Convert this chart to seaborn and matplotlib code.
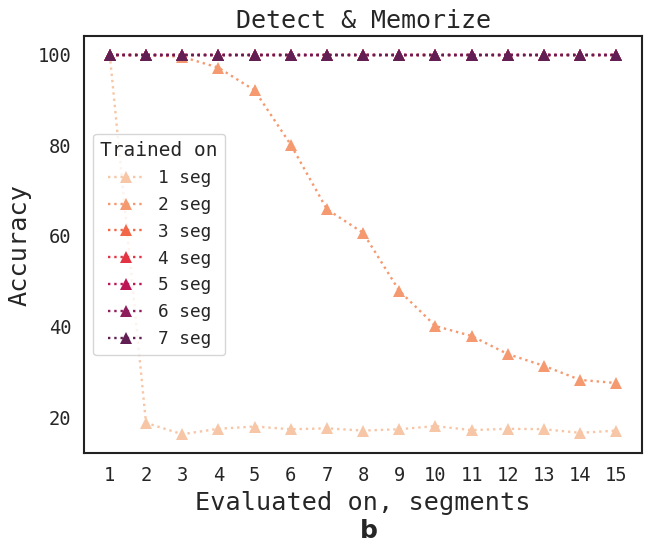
import numpy as np
import pandas as pd
import matplotlib.pyplot as plt
import seaborn as sns

evaluated = list(range(1, 16))
trained = ["1 seg", "2 seg", "3 seg", "4 seg", "5 seg", "6 seg", "7 seg"]

acc_1 = [100, 18.7, 16.2, 17.4, 17.9, 17.3, 17.5, 17.0, 17.3, 18.0, 17.1, 17.4, 17.3, 16.5, 17.0]
acc_2 = [100, 100, 99.6, 97.2, 92.2, 80.2, 65.9, 60.7, 47.9, 40.1, 37.9, 33.9, 31.3, 28.2, 27.5]
acc_3 = [100] * 15
acc_4 = [100] * 15
acc_5 = [100] * 15
acc_6 = [100] * 15
acc_7 = [100] * 15

series = [acc_1, acc_2, acc_3, acc_4, acc_5, acc_6, acc_7]
rows = []
for name, vals in zip(trained, series):
    for x, v in zip(evaluated, vals):
        rows.append({"Evaluated": x, "Accuracy": v, "Trained on": name})
df = pd.DataFrame(rows)

# light peach -> dark purple, a middle slice of rocket
rocket = sns.color_palette("rocket", as_cmap=True)
palette = [rocket(p) for p in np.linspace(0.9, 0.25, len(trained))]

sns.set_theme(style="white")
plt.rcParams["font.family"] = ["DejaVu Sans Mono"]

fig, ax = plt.subplots(figsize=(6.65, 5.54), dpi=100)
sns.lineplot(data=df, x="Evaluated", y="Accuracy", hue="Trained on",
             palette=palette, marker="^", markersize=8, markeredgewidth=0,
             linestyle=":", linewidth=1.7, ax=ax)

for s in ax.spines.values():
    s.set_color("#222222")
    s.set_linewidth(1.5)

ax.set_xticks(evaluated)
ax.tick_params(labelsize=13.5)
ax.set_title("Detect & Memorize", fontsize=18)
ax.set_xlabel("Evaluated on, segments", fontsize=18.2)
ax.set_ylabel("Accuracy", fontsize=18.2)
ax.legend(title="Trained on", loc="center left", fontsize=12.8, title_fontsize=14)

fig.subplots_adjust(left=0.127, right=0.965, top=0.935, bottom=0.182)
fig.text(0.555, 0.028, "b", fontsize=18, fontweight="bold", family="DejaVu Sans", ha="center")
fig.savefig("out.png")
